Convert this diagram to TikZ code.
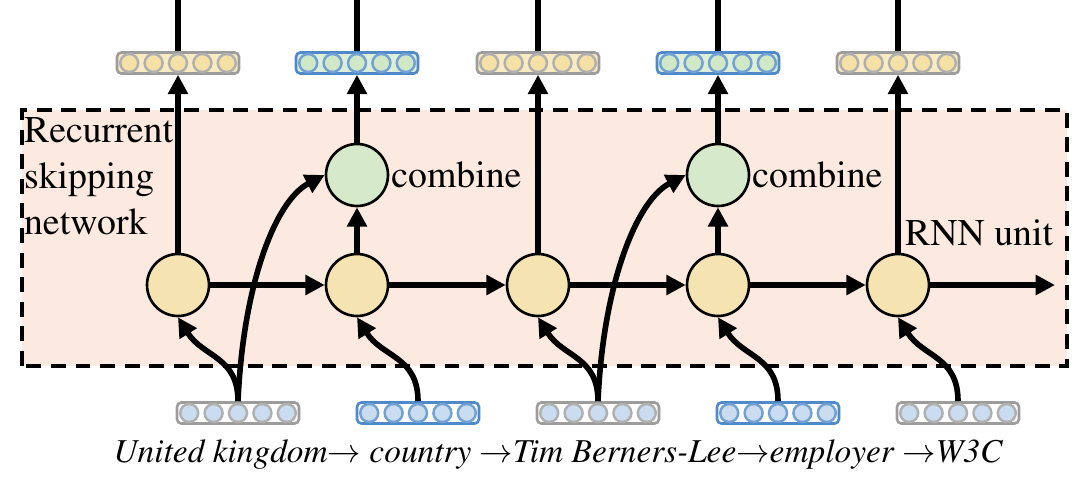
\documentclass[tikz,border=0pt]{standalone}
\usepackage[T1]{fontenc}
\usepackage{mathptmx}
\usetikzlibrary{arrows.meta}

\definecolor{peach}{HTML}{FCE9DF}
\definecolor{rnnyellow}{HTML}{F6E3B2}
\definecolor{combgreen}{HTML}{D6EACB}
\definecolor{vgray}{HTML}{9C9C9C}
\definecolor{vblue}{HTML}{4F89C9}
\definecolor{dotyellow}{HTML}{F5E1A6}
\definecolor{dotgreen}{HTML}{D0E8C6}
\definecolor{dotblue}{HTML}{CADDF0}

\begin{document}
\begin{tikzpicture}[x=0.02cm,y=0.02cm,
  unit/.style={circle,draw,line width=1.5pt,fill=rnnyellow,minimum size=1.24cm,inner sep=0pt},
  comb/.style={unit,fill=combgreen},
  flow/.style={line width=3.2pt,-{Triangle[length=11pt,width=11pt]}},
  wire/.style={line width=3.2pt},
  vecbox/.style={rectangle,rounded corners=2.5pt,line width=1.5pt,minimum width=2.44cm,minimum height=0.42cm,inner sep=0pt},
  lbl/.style={font=\rmfamily\fontsize{21.5}{26}\selectfont,inner sep=1pt}]
  \useasboundingbox (0,0) rectangle (1080,478);
  \draw[line width=1.8pt,dash pattern=on 8.5pt off 5.5pt,fill=peach] (22,112) rectangle (1067,368);

  % rnn units and combine nodes
  \node[unit] (u1) at (178,193) {};
  \node[unit] (u2) at (357,193) {};
  \node[unit] (u3) at (538,193) {};
  \node[unit] (u4) at (718,193) {};
  \node[unit] (u5) at (898,193) {};
  \node[comb] (c1) at (357,303) {};
  \node[comb] (c2) at (718,303) {};

  % output and input vectors
  \foreach \n/\x/\bc/\dc in {1/178/vgray/dotyellow,2/357/vblue/dotgreen,3/538/vgray/dotyellow,4/718/vblue/dotgreen,5/898/vgray/dotyellow}{
    \node[vecbox,draw=\bc,fill=\dc!70!white] (o\n) at (\x,415) {};
    \foreach \k in {-2,...,2}
      \draw[\bc!80!white,line width=1.4pt,fill=\dc] (\x+\k*24.4,415) circle (0.18cm);
  }
  \foreach \n/\x/\bc in {1/238/vgray,2/418/vblue,3/598/vgray,4/778/vblue,5/958/vgray}{
    \node[vecbox,draw=\bc,fill=white] (i\n) at (\x,65) {};
    \foreach \k in {-2,...,2}
      \draw[\bc!80!white,line width=1.4pt,fill=dotblue] (\x+\k*24.4,65) circle (0.18cm);
  }

  % outputs leave the picture at the top
  \foreach \n in {1,...,5}
    \draw[wire] (o\n.north) -- (o\n.north |- 0,478);

  % recurrence
  \coordinate (tail) at (1055,193);
  \draw[flow] (u1) -- (u2);
  \draw[flow] (u2) -- (u3);
  \draw[flow] (u3) -- (u4);
  \draw[flow] (u4) -- (u5);
  \draw[flow] (u5) -- (tail);

  % upward
  \draw[flow] (u1) -- (o1);
  \draw[flow] (u2) -- (c1);
  \draw[flow] (c1) -- (o2);
  \draw[flow] (u3) -- (o3);
  \draw[flow] (u4) -- (c2);
  \draw[flow] (c2) -- (o4);
  \draw[flow] (u5) -- (o5);

  % inputs
  \foreach \n in {1,...,5}
    \draw[flow] (i\n.north) .. controls +(0,45) and +(25,-40) .. (u\n.south);
  \draw[flow] (i1.north) .. controls +(5,115) and +(-50,-26) .. (c1.west);
  \draw[flow] (i3.north) .. controls +(5,115) and +(-50,-26) .. (c2.west);

  % labels
  \node[lbl,anchor=north west,align=left] (rsn) at (22,362) {Recurrent\\skipping\\network};
  \node[lbl,anchor=west] (cb1) at (c1.east) {combine};
  \node[lbl,anchor=west] (cb2) at (c2.east) {combine};
  \node[lbl,anchor=base west] (rnn) at (903,233) {RNN unit};
  \node[anchor=base,inner sep=0pt,font=\rmfamily\fontsize{19}{22}\selectfont\itshape] (seq) at (558,16)
    {United kingdom$\rightarrow$ country $\rightarrow$Tim Berners-Lee$\rightarrow$employer $\rightarrow$W3C};
\end{tikzpicture}
\end{document}
